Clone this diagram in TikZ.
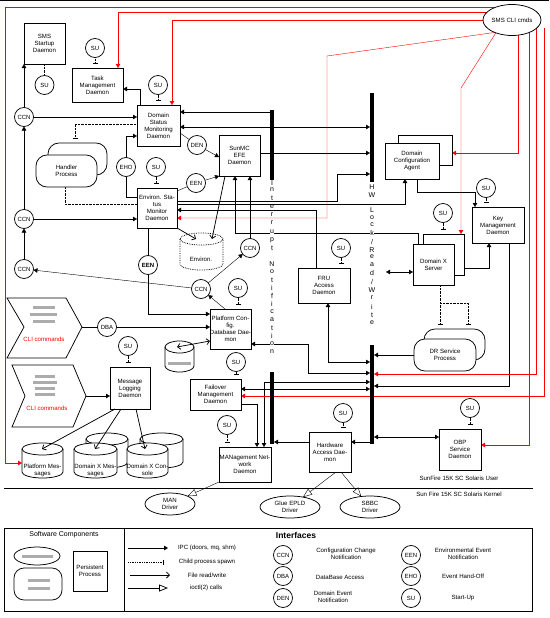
\documentclass[tikz,border=0pt]{standalone}
\usepackage{fontspec}
\setmainfont{Liberation Sans}
\usetikzlibrary{arrows.meta,calc,shapes.geometric}
\pgfdeclarelayer{bg}
\pgfsetlayers{bg,main}
\newcommand\dbcyl[6][]{%
  \filldraw[fill=white,#1] (#3,#5+6) -- (#3,#6-6) arc[start angle=180,end angle=0,x radius={(#4-#3)/2},y radius=6] -- (#4,#5+6) arc[start angle=0,end angle=-180,x radius={(#4-#3)/2},y radius=6] -- cycle;
  \draw[#1] (#3,#5+6) arc[start angle=180,end angle=0,x radius={(#4-#3)/2},y radius=6];
  \path ({(#3+#4)/2},{(#5+6+#6)/2}) node[minimum width={(#4-#3)*1pt},minimum height={(#6-#5-6)*1pt}] (#2) {};
}
\begin{document}
\begin{tikzpicture}[x=1pt,y=-1pt,line width=0.75pt,
  every node/.style={font=\fontsize{6.1}{7}\selectfont, inner sep=0pt, outer sep=0pt},
  pbox/.style={draw, fill=white, align=center},
  iface/.style={draw, circle, fill=white, minimum size=19pt, font=\fontsize{6}{6}\selectfont},
  ipctip/.tip={Triangle[length=4pt,width=4.5pt]},
  rwtip/.tip={Straight Barb[length=3pt,width=6pt]},
  ioctip/.tip={Triangle[length=9pt,width=7pt,fill=white]},
  sptick/.tip={Bar[width=5pt,line width=1.3pt]},
  ipc/.style={-ipctip}, ipcb/.style={ipctip-ipctip},
  rw/.style={-rwtip}, rwb/.style={rwtip-rwtip},
  ioctl/.style={-ioctip},
  spawn/.style={densely dotted,-sptick,shorten >=4pt},
  redl/.style={draw=red,-ipctip},
  blob/.style={draw, fill=white, rounded corners=11pt, align=center},
  hatch/.style={fill=gray!65},
  letter/.style={fill=white, font=\fontsize{7}{7}\selectfont, inner sep=0.5pt},
]
\useasboundingbox (0,0) rectangle (549,618);
\draw (0,0.5) -- (549,0.5);

% ---------- process boxes ----------
\node[pbox, minimum width=41pt, minimum height=41pt] (sms) at (44.5,43.5) {SMS\\Startup\\Daemon};
\node[pbox, minimum width=51pt, minimum height=34pt] (tmd) at (97.5,85) {Task\\Management\\Daemon};
\node[pbox, minimum width=43pt, minimum height=41pt] (dsm) at (158.5,125.5) {Domain\\Status\\Monitoring\\Daemon};
\node[pbox, minimum width=40pt, minimum height=40pt] (esm) at (157,208) {Environ. Sta-\\tus\\Monitor\\Daemon};
\node[pbox, minimum width=41pt, minimum height=41pt] (sunmc) at (239.5,155.5) {SunMC\\EFE\\Daemon};
\node[pbox, minimum width=41pt, minimum height=40pt] (pcd) at (230.5,329) {Platform Con-\\fig.\\Database Dae-\\mon};
\node[pbox, minimum width=52pt, minimum height=35pt] (fru) at (324,285.5) {FRU\\Access\\Daemon};
\node[pbox, minimum width=40pt, minimum height=42pt] (mld) at (130,388) {Message\\Logging\\Daemon};
\node[pbox, minimum width=51pt, minimum height=31pt] (fmd) at (215.5,394.5) {Failover\\Management\\Daemon};
\node[pbox, minimum width=52pt, minimum height=35pt] (man) at (245,464.5) {MANagement Net-\\work\\Daemon};
\node[pbox, minimum width=42pt, minimum height=40pt] (had) at (330,452) {Hardware\\Access Dae-\\mon};
\node[pbox, minimum width=42pt, minimum height=41pt] (obp) at (460,449.5) {OBP\\Service\\Daemon};
\node[pbox, minimum width=52pt, minimum height=36pt] (kmd) at (498,225) {Key\\Management\\Daemon};
\node[pbox, minimum width=54pt, minimum height=30pt] (dcaB) at (425,150) {};
\node[pbox, minimum width=54pt, minimum height=36pt] (dca) at (412,161) {Domain\\Configuration\\Agent};
\node[pbox, minimum width=41pt, minimum height=41pt] (dxsB) at (443.5,254.5) {};
\node[pbox, minimum width=41pt, minimum height=41pt] (dxs) at (433.5,264.5) {Domain X\\Server};

% ---------- transient processes ----------
\node[blob, minimum width=59pt, minimum height=32pt] (hdlB) at (77.5,159) {};
\node[blob, minimum width=61pt, minimum height=32pt] (hdl) at (66.5,171) {Handler\\Process};
\node[blob, minimum width=61pt, minimum height=31pt] (drB) at (454.5,344.5) {};
\node[blob, minimum width=62pt, minimum height=32pt] (dr) at (445,355) {DR Service\\Process};

% ---------- ellipses ----------
\node[draw, fill=white, ellipse, minimum width=58pt, minimum height=31pt] (smscli) at (512,20) {SMS CLI cmds};
\node[draw, fill=white, ellipse, minimum width=50pt, minimum height=22pt, align=center] (mand) at (170,504) {MAN\\Driver};
\node[draw, fill=white, ellipse, minimum width=60pt, minimum height=22pt, align=center] (glue) at (290,507) {Glue EPLD\\Driver};
\node[draw, fill=white, ellipse, minimum width=60pt, minimum height=22pt, align=center] (sbbc) at (370,507) {SBBC\\Driver};

% ---------- interfaces ----------
\node[iface] (su1) at (44.5,85) {SU};
\node[iface] (su2) at (95,48) {SU};
\node[iface] (su3) at (158,85) {SU};
\node[iface] (ccn1) at (24,117) {CCN};
\node[iface] (eho) at (126,167) {EHO};
\node[iface] (su4) at (156,167) {SU};
\node[iface] (ccn2) at (24,219) {CCN};
\node[iface] (ccn3) at (24,269) {CCN};
\node[iface, font=\bfseries\fontsize{6}{6}\selectfont] (een1) at (148,265) {EEN};
\node[iface] (den) at (197,145) {DEN};
\node[iface] (een2) at (196,183) {EEN};
\node[iface] (ccn4) at (250,248) {CCN};
\node[iface] (ccn5) at (201,289) {CCN};
\node[iface] (su5) at (238,288) {SU};
\node[iface] (dba) at (107,327) {DBA};
\node[iface] (su6) at (128,346) {SU};
\node[iface] (su7) at (236,362) {SU};
\node[iface] (su8) at (227,425) {SU};
\node[iface] (su9) at (343,413) {SU};
\node[iface] (su10) at (470,408) {SU};
\node[iface] (su11) at (341,248) {SU};
\node[iface] (su12) at (443,213) {SU};
\node[iface] (su13) at (486,188) {SU};

% ---------- data stores ----------
\dbcyl[densely dotted]{env}{180}{223}{233}{270}
\node at (201,259) {Environ.};
\dbcyl{dbc}{165}{194}{341}{372}
\fill[hatch] (168,362) rectangle (191,365);
\dbcyl{dxmB}{86}{128}{433}{468}
\dbcyl{dxcB}{140}{183}{433}{468}
\dbcyl{pm}{22}{63}{443}{478}
\dbcyl{dxm}{74}{117}{443}{478}
\dbcyl{dxc}{127}{168}{443}{478}
\node[align=center] at (42.5,470) {Platform Mes-\\sages};
\node[align=center] at (95.5,470) {Domain X Mes-\\sages};
\node[align=center] at (147.5,470) {Domain X Con-\\sole};

% ---------- CLI command chevrons ----------
\filldraw[fill=white] (7,298) -- (66,298) -- (82,327) -- (66,358) -- (7,358) -- (24,327) -- cycle;
\coordinate (ch1) at (82,327);
\fill[hatch] (33,306) rectangle (55,308.5);
\fill[hatch] (30,313) rectangle (57,315.5);
\fill[hatch] (33,320) rectangle (55,322.5);
\node[text=red] at (44,339) {CLI commands};
\filldraw[fill=white] (12,365) -- (73,365) -- (86,396) -- (73,427) -- (12,427) -- (25,396) -- cycle;
\coordinate (ch2) at (86,396);
\fill[hatch] (35,375) rectangle (55,377.5);
\fill[hatch] (33,381) rectangle (57,383.5);
\fill[hatch] (35,387) rectangle (55,389.5);
\fill[hatch] (35,393) rectangle (55,395.5);
\node[text=red] at (47,408) {CLI commands};

% ---------- notification / lock bars ----------
\node[fill=black, minimum width=4pt, minimum height=70pt] (ib1) at (272,145) {};
\node[fill=black, minimum width=4pt, minimum height=72pt] (ib2) at (272,408) {};
\node[fill=black, minimum width=4pt, minimum height=89pt] (hb1) at (372,137.5) {};
\node[fill=black, minimum width=4pt, minimum height=99pt] (hb2) at (372,394.5) {};
\foreach \yy/\ch in {183/I,190/n,198/t,207/e,215/r,223/r,232/u,240/p,248/t,264/N,272/o,280/t,288/i,296/f,304/i,312/c,320/a,328/t,336/i,344/o,352/n}
  \node[letter] at (272,\yy) {\ch};
\foreach \yy/\ch in {187/H,195/W,210/L,218/o,225/c,233/k,242/{/},250/R,257/e,265/a,273/d,282/{/},290/W,298/r,307/i,315/t,323/e}
  \node[letter] at (372,\yy) {\ch};
\coordinate (hwt) at (386,272);
\coordinate (r9) at (544,28);

% ---------- layer separator ----------
\draw (4,488) -- (533,488);
\node at (459,478) {SunFire 15K SC Solaris User};
\node at (459,494) {Sun Fire 15K SC Solaris Kernel};

% ---------- legend ----------
\draw (4,528) rectangle (532,611);
\draw (124,528) -- (124,611);
\node[font=\fontsize{7}{7}\selectfont] at (64,535) {Software Components};
\node[draw, ellipse, minimum width=46pt, minimum height=18pt] (lgell) at (37,556) {};
\fill[hatch] (22,555) rectangle (53,557.5);
\node[draw, rounded corners=10pt, minimum width=48pt, minimum height=32pt] (lgst) at (38,584) {};
\fill[hatch] (28,579) rectangle (50,581.5);
\fill[hatch] (28,587) rectangle (50,589.5);
\node[pbox, minimum width=34pt, minimum height=40pt] (lgpp) at (90,571) {Persistent\\Process};
\coordinate (la1) at (128,548);
\coordinate (la2) at (128,562);
\coordinate (la3) at (130,575);
\coordinate (la4) at (128,588);
\draw[ipc] (la1) -- ++(40,0);
\draw[densely dotted,-sptick] (la2) -- ++(36,0);
\draw[rw] (la3) -- ++(40,0);
\draw[ioctl] (la4) -- ++(40,0);
\node at (207,548) {IPC (doors, mq, shm)};
\node at (207,562) {Child process spawn};
\node at (207,575) {File read/write};
\node at (206,588) {ioctl(2) calls};
\node[font=\bfseries\fontsize{8.5}{9}\selectfont] at (296,535) {Interfaces};
\node[iface] (lccn) at (283,555) {CCN};
\node[align=center] at (346,554) {Configuration Change\\Notification};
\node[iface] (ldba) at (283,576) {DBA};
\node at (340,577) {DataBase Access};
\node[iface] (lden) at (283,598) {DEN};
\node[align=center] at (333,597) {Domain Event\\Notification};
\node[iface] (leen) at (411,555) {EEN};
\node[align=center] at (463,554) {Environmental Event\\Notification};
\node[iface] (leho) at (411,576) {EHO};
\node at (463,576) {Event Hand-Off};
\node[iface] (lsu) at (411,598) {SU};
\node at (463,598) {Start-Up};

% ---------- file read/write into stores (drawn over the stores) ----------
\draw[rw] (sunmc.south -| 225,0) -- (env.north -| 212,0);
\draw[rw] (esm.south east) -- (env.north -| 196,0);
\draw[rwb] (pcd.west |- 0,341) -- (dbc.north -| 177,0);
\draw[rw] (mld.south -| 115,0) -- (pm.north -| 42,0);
\draw[rw] (mld.south -| 121,0) -- (dxm.north -| 95,0);
\draw[rw] (mld.south -| 136,0) -- (dxc.north -| 145,0);

% ---------- connectors ----------
\begin{pgfonlayer}{bg}
\draw[ipc] (ccn1) -- (ccn1 |- sms.south);
\draw[ipc] (ccn1) -- (ccn1 -| dsm.west);
\draw[ipc] (ccn2) -- (ccn1);
\draw[ipc] (ccn2) -- (ccn2 -| esm.west);
\draw[ipc] (ccn3) -- (ccn2);
\draw[ipc] (ccn5) -- (ccn3);
\draw[ipc] (dsm.north -| 140,0) |- (tmd.east |- 0,89);
\draw (esm.west |- 0,197) -| (eho);
\draw[ipc] (eho) |- (dsm.west |- 0,136);
\draw[ipc] (ib1.west |- 0,112) -- (dsm.east |- 0,112);
\draw[ipcb] (dsm.east |- 0,127) -- (hb1.west |- 0,127);
\draw (dsm.east |- 0,133) -- (den);
\draw[ipc] (den) -- (sunmc.west |- 0,157);
\draw (esm.east |- 0,191) -- (een2);
\draw[ipc] (een2) -- (sunmc.south west);
\draw[ipc] (sunmc.east |- 0,153) -- (hb1.west |- 0,153);
\draw[ipc] (esm.east |- 0,201) -| (337,174) -- (hb1.west |- 0,174);
\draw[ipc] (esm.east |- 0,204) -| (dca.south -| 405,0);
\draw[ipc] (fru.north -| 316,0) |- (esm.east |- 0,210);
\draw[ipc] (dxs.north -| 418,0) |- (235,233) -- (sunmc.south -| 235,0);
\draw[ipc] (ccn4) -- (ccn4 |- sunmc.south);
\draw[ipc] (ccn5) -- (ccn4);
\draw[ipc] (pcd.north -| 225,0) -- (ccn5);
\draw (esm.south -| een1) -- (een1);
\draw[ipc] (een1) |- (pcd.west |- 0,314);
\draw (ch1) -- (dba);
\draw[ipc] (dba) -- (dba -| pcd.west);
\draw[ipcb] (pcd.east |- 0,344) -| (308,373) -- (hb2.west |- 0,373);
\draw[ipcb] (fru.south -| 328,0) |- (hb2.west |- 0,362);
\draw[ipcb] (man.north -| 264,0) |- (hb2.west |- 0,382);
\draw[ipc] (fmd.east |- 0,404) -| (man.north -| 257,0);
\draw[ipcb] (fmd.east |- 0,389) -- (hb2.west |- 0,389);
\draw[ipc] (had.west |- 0,442) -- (ib2.east |- 0,442);
\draw[ipc] (hb2.east |- 0,442) -- (had.east |- 0,442);
\draw[ipcb] (hb2.east |- 0,437) -- (obp.west |- 0,437);
\draw[ipc] (dr.west) -- (dr.west -| hb2.east);
\draw[ipc] (kmd.south -| 509,0) |- (hb2.east |- 0,386);
\draw[ipc] (dca.south -| 417,0) |- (475,192) -- (kmd.north -| 475,0);
\draw[ipc] (dxs.east |- 0,268) -| (kmd.south -| 489,0);
\draw[ipcb] (hwt) -- (dxs.west |- hwt);
\draw[ipc] (ch2) -- (ch2 -| mld.west);
\draw[ioctl] (man.south west) -- (mand);
\draw[ioctl] (had.south -| 336,0) -- (glue);
\draw[ioctl] (had.south -| 341,0) -- (sbbc);
% spawns
\draw[densely dotted] (sms) -- (su1);
\foreach \s/\b in {su2/tmd,su3/dsm,su4/esm,su5/pcd,su6/mld,su7/fmd,su8/man,su9/had,su10/obp,su11/fru,su12/dxsB,su13/kmd}
  \draw[spawn] (\s) -- (\s |- \b.north);
\draw[spawn] (dsm.west |- 0,124) -| (hdlB.north -| 75,0);
\draw[densely dotted] (hdl.south -| 65,0) |- (esm.west |- 0,204);
\draw[spawn] (dxs.south -| 440,0) -- (drB.north -| 440,0);
\draw[spawn] (dxs.south -| 440,0) ++(0,18) -| (drB.north -| 468,0);
% SMS CLI commands
\draw[redl] (smscli.center |- 0,7) -| (5,463) -- (pm.west |- 0,463);
\draw[redl] (smscli.center |- 0,12) -| (tmd.north -| 118,0);
\draw[redl] (smscli.center |- 0,20) -| (dsm.north -| 172,0);
\draw[redl] (smscli.center |- 0,30) -- (327,56) |- (esm.east |- 0,218);
\draw[redl] (smscli.center -| 504,0) -- (461,88) -- (dxsB.north -| 461,0);
\draw[redl] (smscli.center -| 518,0) |- (dcaB.east |- 0,153);
\draw[redl] (smscli.center -| 529,0) |- (obp.east |- 0,445);
\draw[redl] (smscli.center -| 536,0) |- (hb2.east |- 0,374);
\draw[redl] (r9) |- (fmd.east |- 0,396);
\end{pgfonlayer}
\end{tikzpicture}
\end{document}
